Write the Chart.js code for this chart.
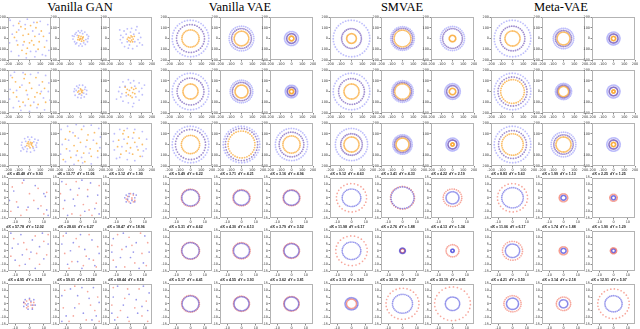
<!DOCTYPE html>
<html><head><meta charset="utf-8">
<script src="https://cdn.jsdelivr.net/npm/chart.js@4.4.0/dist/chart.umd.min.js"></script>
<style>
html,body{margin:0;padding:0;background:#fff;width:640px;height:329px;overflow:hidden;}
#wrap{position:relative;width:640px;height:329px;}
#wrap canvas{position:absolute;}
.gt{position:absolute;top:0px;font-family:'Liberation Serif',serif;font-size:12.5px;color:#000;transform:translateX(-50%);white-space:nowrap;line-height:14px;}
</style></head><body><div id="wrap"></div>
<script>
// ---------- labels ----------
const groupTitles = ['Vanilla GAN','Vanilla VAE','SMVAE','Meta-VAE'];
const groupTitleX = [80, 240, 402, 561];
const topXTicks = [-200,-100,0,100,200];
const topYTicks = [-200,-100,0,100,200];
const botXTicks = [-10,0,10];
const botYTicks = [-15,-10,-5,0,5,10,15];

// ---------- Vanilla GAN, top three rows: [orange points, blue points] ----------
const ganTop = [
 ["-120,60 -80,110 -40,90 10,120 60,100 110,70 130,20 90,-30 40,-60 -20,-90 -70,-110 -110,-60 -140,10 -60,30 -10,40 50,20 20,-20 -50,-30 80,-100 -30,-140 140,-80 -100,140 0,-40 70,150",
  "-180,170 -150,120 -90,160 -20,180 40,150 100,160 170,130 185,50 160,-20 180,-110 120,-150 50,-170 -30,-180 -100,-160 -170,-120 -185,-40 -160,40 -100,80 -40,130 30,70 90,40 60,-120 -120,-20 -60,-60 10,-120 150,-160 -190,190"],
 ["-20,10 -10,-15 5,20 15,-5 25,15 -25,-10 0,0 10,-25 -15,25 30,-20 20,5 -5,-5",
  "-60,20 -55,-30 -40,55 -20,70 10,72 40,60 60,35 70,0 65,-30 45,-55 15,-70 -15,-68 -45,-50 -70,-5 -50,40 30,-40 -30,30 50,-10 -5,55 20,45 -35,-40 75,20 -75,25 0,-50"],
 ["-20,10 10,-15 5,25 25,-5 -15,-20 15,15 -30,-5 0,-30 35,20 -5,5 20,-30",
  "-90,30 -80,-40 -60,70 -30,90 10,95 50,80 80,50 95,10 85,-40 60,-70 20,-95 -20,-90 -55,-75 -95,-10 -40,40 40,-30 -30,-30 30,40 0,60 70,-10 -70,10 -10,-60 110,-60 -100,80 60,110"],
 ["-130,90 -90,40 -50,120 0,80 60,130 120,90 140,30 100,-20 50,-50 -10,-70 -60,-100 -120,-50 -150,-10 -30,10 20,30 70,-10 -90,-140 10,-130 80,-120 -40,160 150,-100 -160,130",
  "-175,150 -140,180 -60,175 10,160 80,175 150,150 180,80 175,0 190,-80 140,-170 70,-150 0,-185 -80,-175 -150,-150 -185,-70 -180,20 -120,10 -70,60 -20,-30 40,-100 110,0 130,-60 -40,-130 90,60 -100,-90"],
 ["-15,5 5,15 15,-10 -5,-20 20,10 -25,-5 0,25 10,0",
  "-55,25 -50,-35 -35,50 -10,60 20,58 45,40 58,10 55,-25 35,-50 5,-60 -25,-55 -60,0 -40,10 30,-15 -20,35 10,-35 40,20 -15,-25"],
 ["-30,20 20,-10 10,35 40,-20 -20,-30 30,20 -40,-10 0,-40 -10,10 50,30 -50,40 15,-55",
  "-100,40 -90,-50 -70,90 -20,110 30,100 80,80 105,30 110,-30 80,-80 30,-110 -20,-105 -70,-90 -110,0 -50,50 50,-50 -40,-40 40,50 0,80 80,0 -80,-20 130,60 -130,-70 20,-140"],
 ["-20,10 -5,-15 10,20 20,-5 -10,25 25,15 -25,-10 5,-30 15,5 -5,5 30,-20",
  "-70,20 -65,-30 -45,55 -15,70 20,68 50,50 68,15 65,-25 45,-55 10,-70 -25,-65 -55,-45 -75,-5 -35,30 35,-35 -40,-20 40,25 0,45 60,-5 -20,-40 80,40 -80,-60"],
 ["-140,50 -100,120 -50,80 10,140 70,90 130,110 150,10 90,-40 30,-80 -30,-60 -90,-120 -130,-40 -60,-10 0,20 60,40 100,-110 -20,-150 40,-160 -160,-140 160,-60",
  "-180,140 -120,170 -40,185 30,170 100,180 170,150 185,70 180,-30 160,-120 100,-180 20,-170 -60,-185 -140,-160 -185,-90 -170,0 -110,40 -70,110 -20,60 50,-20 120,40 80,-80 -40,-100 -100,-60 10,-120"],
 ["-110,40 -70,100 -20,70 30,110 80,60 110,0 70,-50 20,-90 -40,-60 -90,-90 -120,-20 -30,10 40,20 0,-30 90,-110 -60,130",
  "-150,100 -100,140 -30,150 40,140 110,120 150,50 145,-40 110,-110 40,-150 -30,-140 -100,-120 -150,-50 -160,30 -60,50 60,-20 -10,-80 120,-60 -80,-20 20,60 -130,-130"]
];

// ---------- Vanilla GAN, bottom three rows: [red points, blue points] ----------
const ganBottom = [
 ["-12,8 -5,11 3,-2 8,-6 -9,-3 -2,-9 10,-12 -13,-10 6,7 0,3 -6,-13 12,4", "-4,13 10,3 11,1 -14,-2 -8,-7 6,-8 12,-9 13,-13 -1,-7 4,9 -11,5"],
 ["-10,10 -3,12 5,6 11,-4 -12,-8 -6,-12 2,-5 8,-13 -2,2 13,9 -14,3 6,-9 0,-13", "-13,12 -7,6 1,13 7,11 12,2 10,-8 3,-10 -4,-6 -11,-2 -9,-13 5,1 -1,7 13,-12 -5,-1"],
 ["-2,1 1,-1 2,2 -1,-3 3,-2 -3,-1 0,3 1,0 -2,-2 2,-3", "-3,2 -1,3 2,3 3,0 3,-3 0,-4 -3,-3 -4,0 -1,1 1,-2 4,2 -2,-1"],
 ["-11,9 -4,6 4,11 10,7 12,-3 7,-10 0,-6 -7,-11 -13,-4 -2,1 5,-2 13,12", "-13,13 -6,12 2,8 9,13 13,5 10,-6 4,-13 -3,-10 -10,-7 -12,2 -5,-3 1,-1 7,3 -8,5"],
 ["-12,11 -3,9 6,12 12,3 9,-7 2,-11 -6,-8 -11,-2 -1,3 4,-4 -8,-13 11,-12", "-10,13 0,12 8,8 13,-2 6,-6 -2,-8 -9,-10 -13,5 -5,6 3,1 10,-11 -7,0 1,-13"],
 ["-9,12 -1,10 7,13 12,6 8,-2 3,-9 -4,-12 -12,-7 -6,1 1,4 11,-11 -13,4", "-12,9 -5,13 4,6 10,11 13,-1 9,-9 0,-5 -7,-5 -10,-12 -3,3 6,-13 -13,-1 2,-1"],
 ["-2,2 1,-1 3,1 -1,-2 2,-3 -3,0 0,3 1,1 -2,-3 3,-1 -4,1", "-3,3 0,4 3,3 4,-1 2,-4 -1,-4 -4,-2 -4,1 -1,0 1,2 2,-1 -2,-1"],
 ["-11,10 -4,13 5,9 12,5 10,-5 4,-12 -5,-9 -12,-3 -1,0 7,-1 -8,-13 13,-13", "-13,6 -7,11 1,12 9,12 13,1 11,-9 2,-7 -4,-3 -10,-9 -13,-13 6,4 -2,6 8,-12"],
 ["-12,12 -2,11 6,11 11,2 8,-9 -1,-13 -9,-10 -13,-1 -4,4 3,-3 12,-13 -7,-5", "-9,13 -1,7 9,13 13,8 12,-5 5,-7 -2,-10 -11,-12 -12,5 -5,-1 4,3 8,-2 -13,-7"]
];

// ---------- VAE-type models: rings of points [series, radius, number of points] ----------
// top rows: b = blue, p = purple, o = orange ; bottom rows: r = red, u = blue
const vaeTop = [
 [['b',170,40],['p',130,34],['o',80,30]], [['b',115,36],['p',92,32],['o',68,30]], [['b',65,30],['p',45,26],['o',22,18]],
 [['b',170,40],['p',125,34],['o',70,30]], [['b',105,36],['p',85,32],['o',60,30]], [['b',58,30],['p',40,26],['o',20,18]],
 [['b',170,40],['p',140,34],['o',85,30]], [['b',170,40],['p',150,36],['o',125,34]], [['b',150,40],['p',115,34],['o',80,30]]
];
const smvaeTop = [
 [['b',170,40],['p',92,32],['o',45,24]], [['b',110,36],['p',95,34],['o',78,32]], [['b',112,36],['p',92,32],['o',30,20]],
 [['b',170,40],['p',120,34],['o',70,30]], [['b',100,36],['p',85,32],['o',72,30]], [['b',72,32],['p',55,28],['o',30,20]],
 [['b',150,40],['p',100,34],['o',70,30]], [['b',90,36],['p',75,32],['o',60,30]], [['b',60,30],['p',42,26],['o',15,14]]
];
const metaTop = [
 [['b',170,40],['p',115,34],['o',70,30]], [['b',95,36],['p',75,30],['o',60,28]], [['b',60,30],['p',42,26],['o',20,16]],
 [['b',170,40],['p',135,34],['o',110,32]], [['b',75,32],['p',60,28],['o',48,26]], [['b',60,30],['p',40,26],['o',15,14]],
 [['b',170,40],['p',130,34],['o',100,32]], [['b',115,36],['p',90,32],['o',70,30]], [['b',62,30],['p',42,26],['o',20,16]]
];
const vaeBottom = [
 [['u',6,30],['r',6.4,30]], [['u',5.5,30],['r',6,30]], [['u',5.5,30],['r',5.9,30]],
 [['u',6,30],['r',6.3,30]], [['u',5.5,30],['r',6,30]], [['u',5.2,30],['r',5.6,30]],
 [['u',5.8,30],['r',6.2,30]], [['u',5.2,30],['r',5.6,30]], [['u',5,30],['r',5.4,30]]
];
const smvaeBottom = [
 [['r',10.5,26],['u',6.5,32]], [['u',8,32],['r',8.4,30]], [['r',6.5,26],['u',4.5,28]],
 [['r',11,26],['u',6.5,32]], [['u',2,20],['r',1.6,18]], [['r',4.5,22],['u',1.2,16]],
 [['u',4.5,30],['r',3.5,26]], [['r',11.5,28],['u',7,32]], [['r',12.5,28],['u',5,30]]
];
const metaBottom = [
 [['r',10.5,26],['u',7.5,34]], [['r',3,20],['u',1.8,18]], [['r',2.6,18],['u',1.5,16]],
 [['r',7,26],['u',5,30]], [['r',3,20],['u',1.8,18]], [['r',2.2,18],['u',1.4,16]],
 [['r',6,26],['u',4.2,30]], [['r',5,24],['u',3,22]], [['r',11,28],['u',6,30]]
];

// ---------- subplot titles (bottom rows): d_X and d_Y per group ----------
const dX = [
 [45.48,13.77,3.12, 57.78,28.60,18.47, 4.95,59.01,68.44],
 [5.49,3.71,3.16, 5.31,4.30,3.79, 5.17,4.55,3.62],
 [9.12,3.41,4.22, 11.98,2.76,4.13, 3.13,32.19,33.19],
 [8.83,1.99,2.25, 11.06,1.74,1.90, 4.21,3.14,12.91]
];
const dY = [
 [9.93,11.06,1.90, 12.02,6.27,18.96, 3.18,13.28,8.18],
 [6.22,4.21,4.96, 4.62,4.13,3.52, 4.41,3.93,3.81],
 [4.63,4.33,2.19, 6.17,1.88,1.34, 3.63,9.37,4.81],
 [5.63,1.13,1.25, 6.17,1.88,1.29, 3.50,2.18,5.97]
];

// ---------- styling ----------
const COLORS = {
  o:'rgba(250,165,45,0.72)', b:'rgba(125,125,250,0.5)', p:'rgba(95,65,175,0.6)',
  r:'rgba(240,95,75,0.55)', u:'rgba(70,70,220,0.55)'
};
const rowTops = [17,70,123,178,231,284];
const wrap = document.getElementById('wrap');

groupTitles.forEach((t,i)=>{
  const d=document.createElement('div'); d.className='gt'; d.textContent=t;
  d.style.left=groupTitleX[i]+'px'; wrap.appendChild(d);
});

function parsePts(s){ return s.trim().split(/\s+/).map(p=>{const [x,y]=p.split(',').map(Number);return {x,y};}); }
function ringPts(r,n,phase){ const a=[]; for(let k=0;k<n;k++){const t=2*Math.PI*k/n+phase;a.push({x:r*Math.cos(t),y:r*Math.sin(t)});} return a; }

const framePlugin = {id:'frame', afterDatasetsDraw(chart){
  const {ctx,chartArea:a}=chart; ctx.save(); ctx.strokeStyle='#b3b3b3'; ctx.lineWidth=1;
  ctx.strokeRect(Math.round(a.left)+0.5,Math.round(a.top)+0.5,Math.round(a.right-a.left)-1,Math.round(a.bottom-a.top)-1);
  ctx.restore();
}};

function makeChart(g,row,c,datasets,title){
  const bottom=row>=3;
  const fw=43, fh=bottom?41:43;
  const fx=8+161*g+50.5*c, fy=rowTops[row];
  const lim=bottom?15:200;
  const xt=bottom?botXTicks:topXTicks, yt=bottom?botYTicks:topYTicks;
  const pad={left:1,right:5,top:bottom?1:3,bottom:1};
  let W=pad.left+9+fw+pad.right, H=pad.top+(bottom?5:0)+fh+6+pad.bottom;
  const cv=document.createElement('canvas'); cv.width=W; cv.height=H; cv.style.width=W+'px'; cv.style.height=H+'px';
  wrap.appendChild(cv);
  const tickFont={size:3.4,family:'DejaVu Sans'};
  const ch=new Chart(cv,{
    type:'scatter',
    data:{datasets},
    options:{
      responsive:false, animation:false, devicePixelRatio:1,
      layout:{padding:pad},
      plugins:{legend:{display:false},tooltip:{enabled:false},
        title:{display:!!title,text:title||'',font:{size:3.6,family:'Liberation Sans'},color:'#222',padding:{top:0,bottom:1.2}}},
      elements:{point:{radius:bottom?0.85:0.9,borderWidth:0,hoverRadius:0}},
      scales:{
        x:{type:'linear',min:-lim,max:lim,
          afterBuildTicks:ax=>{ax.ticks=xt.map(v=>({value:v}));},
          afterFit:ax=>{ax.height=6;},
          ticks:{font:tickFont,color:'#333',padding:0.5,maxRotation:0,autoSkip:false},
          grid:{display:true,drawOnChartArea:false,drawTicks:true,tickLength:1.5,color:'#888'},
          border:{display:false}},
        y:{type:'linear',min:-lim,max:lim,
          afterBuildTicks:ax=>{ax.ticks=yt.map(v=>({value:v}));},
          afterFit:ax=>{ax.width=9;},
          ticks:{font:tickFont,color:'#333',padding:0.5,autoSkip:false},
          grid:{display:true,drawOnChartArea:false,drawTicks:true,tickLength:1.5,color:'#888'},
          border:{display:false}}
      }
    },
    plugins:[framePlugin]
  });
  let a=ch.chartArea;
  const dw=fw-(a.right-a.left), dh=fh-(a.bottom-a.top);
  if(Math.abs(dw)>0.01||Math.abs(dh)>0.01){
    W+=dw; H+=dh; cv.style.width=W+'px'; cv.style.height=H+'px'; ch.resize(W,H); a=ch.chartArea;
  }
  cv.style.left=(fx-a.left)+'px'; cv.style.top=(fy-a.top)+'px';
}

const topRings=[null,vaeTop,smvaeTop,metaTop];
const botRings=[null,vaeBottom,smvaeBottom,metaBottom];

for(let g=0;g<4;g++){
  for(let row=0;row<6;row++){
    for(let c=0;c<3;c++){
      const i=(row%3)*3+c;
      let datasets=[];
      if(g===0){
        if(row<3){
          datasets=[{data:parsePts(ganTop[i][1]),backgroundColor:COLORS.b},{data:parsePts(ganTop[i][0]),backgroundColor:COLORS.o}];
        } else {
          datasets=[{data:parsePts(ganBottom[i][1]),backgroundColor:COLORS.u},{data:parsePts(ganBottom[i][0]),backgroundColor:COLORS.r}];
        }
      } else {
        const spec=(row<3?topRings[g]:botRings[g])[i];
        datasets=spec.map((s,j)=>({data:ringPts(s[1],s[2],0.17*(j+1)),backgroundColor:COLORS[s[0]]}));
      }
      const title=row>=3?('dX = '+dX[g][i].toFixed(2)+'  dY = '+dY[g][i].toFixed(2)):null;
      makeChart(g,row,c,datasets,title);
    }
  }
}
</script></body></html>
